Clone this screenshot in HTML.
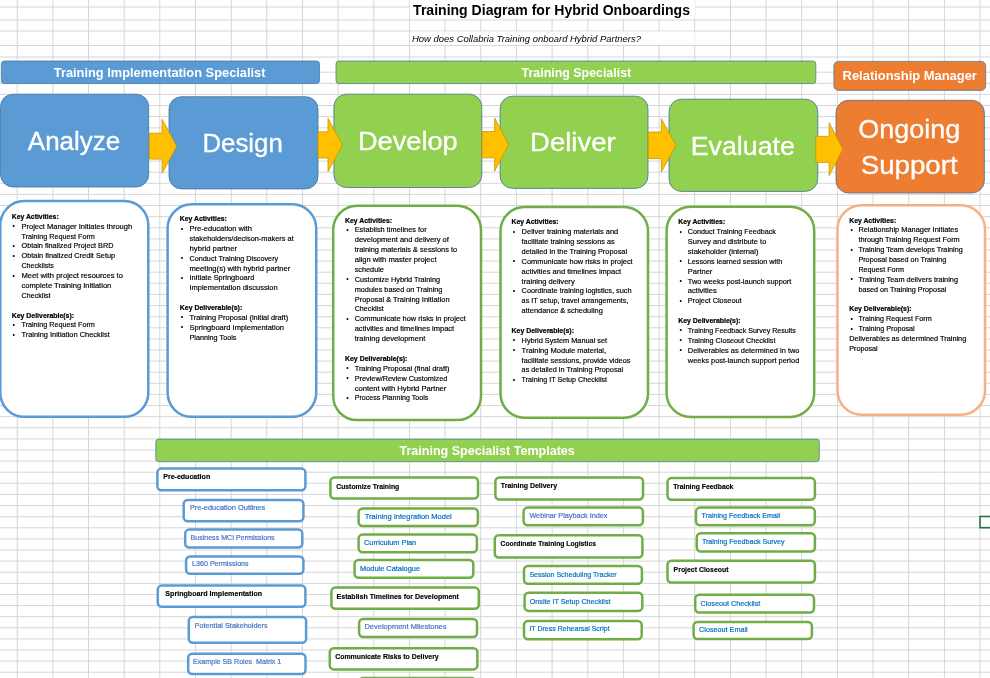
<!DOCTYPE html>
<html lang="en"><head><meta charset="utf-8"><title>Training Diagram for Hybrid Onboardings</title>
<style>
html,body{margin:0;padding:0;background:#fff;}
body{width:990px;height:678px;position:relative;overflow:hidden;font-family:"Liberation Sans", sans-serif;}
svg text{white-space:pre;}
</style></head><body>
<svg width="990" height="678" viewBox="0 0 990 678" font-family='"Liberation Sans", sans-serif' style="display:block;position:absolute;left:0;top:0;filter:blur(0.45px)"><g stroke="#d6d6d6" stroke-width="1" shape-rendering="auto"><line x1="17.2" y1="0" x2="17.2" y2="678"/><line x1="52.9" y1="0" x2="52.9" y2="678"/><line x1="88.5" y1="0" x2="88.5" y2="678"/><line x1="124.2" y1="0" x2="124.2" y2="678"/><line x1="159.8" y1="0" x2="159.8" y2="678"/><line x1="195.5" y1="0" x2="195.5" y2="678"/><line x1="231.2" y1="0" x2="231.2" y2="678"/><line x1="266.8" y1="0" x2="266.8" y2="678"/><line x1="302.5" y1="0" x2="302.5" y2="678"/><line x1="338.1" y1="0" x2="338.1" y2="678"/><line x1="373.8" y1="0" x2="373.8" y2="678"/><line x1="409.5" y1="0" x2="409.5" y2="678"/><line x1="445.1" y1="0" x2="445.1" y2="678"/><line x1="480.8" y1="0" x2="480.8" y2="678"/><line x1="516.4" y1="0" x2="516.4" y2="678"/><line x1="552.1" y1="0" x2="552.1" y2="678"/><line x1="587.8" y1="0" x2="587.8" y2="678"/><line x1="623.4" y1="0" x2="623.4" y2="678"/><line x1="659.1" y1="0" x2="659.1" y2="678"/><line x1="694.7" y1="0" x2="694.7" y2="678"/><line x1="730.4" y1="0" x2="730.4" y2="678"/><line x1="766.1" y1="0" x2="766.1" y2="678"/><line x1="801.7" y1="0" x2="801.7" y2="678"/><line x1="837.4" y1="0" x2="837.4" y2="678"/><line x1="873.0" y1="0" x2="873.0" y2="678"/><line x1="908.7" y1="0" x2="908.7" y2="678"/><line x1="944.4" y1="0" x2="944.4" y2="678"/><line x1="980.0" y1="0" x2="980.0" y2="678"/><line x1="0" y1="7.0" x2="990" y2="7.0"/><line x1="0" y1="20.0" x2="990" y2="20.0"/><line x1="0" y1="31.0" x2="990" y2="31.0"/><line x1="0" y1="45.5" x2="990" y2="45.5"/><line x1="0" y1="57.0" x2="990" y2="57.0"/><line x1="0" y1="72.2" x2="990" y2="72.2"/><line x1="0" y1="83.3" x2="990" y2="83.3"/><line x1="0" y1="94.4" x2="990" y2="94.4"/><line x1="0" y1="105.5" x2="990" y2="105.5"/><line x1="0" y1="116.6" x2="990" y2="116.6"/><line x1="0" y1="127.8" x2="990" y2="127.8"/><line x1="0" y1="138.9" x2="990" y2="138.9"/><line x1="0" y1="150.0" x2="990" y2="150.0"/><line x1="0" y1="161.1" x2="990" y2="161.1"/><line x1="0" y1="172.2" x2="990" y2="172.2"/><line x1="0" y1="183.3" x2="990" y2="183.3"/><line x1="0" y1="194.4" x2="990" y2="194.4"/><line x1="0" y1="205.5" x2="990" y2="205.5"/><line x1="0" y1="216.7" x2="990" y2="216.7"/><line x1="0" y1="227.8" x2="990" y2="227.8"/><line x1="0" y1="238.9" x2="990" y2="238.9"/><line x1="0" y1="250.0" x2="990" y2="250.0"/><line x1="0" y1="261.1" x2="990" y2="261.1"/><line x1="0" y1="272.2" x2="990" y2="272.2"/><line x1="0" y1="283.3" x2="990" y2="283.3"/><line x1="0" y1="294.4" x2="990" y2="294.4"/><line x1="0" y1="305.6" x2="990" y2="305.6"/><line x1="0" y1="316.7" x2="990" y2="316.7"/><line x1="0" y1="327.8" x2="990" y2="327.8"/><line x1="0" y1="338.9" x2="990" y2="338.9"/><line x1="0" y1="350.0" x2="990" y2="350.0"/><line x1="0" y1="361.1" x2="990" y2="361.1"/><line x1="0" y1="372.2" x2="990" y2="372.2"/><line x1="0" y1="383.3" x2="990" y2="383.3"/><line x1="0" y1="394.4" x2="990" y2="394.4"/><line x1="0" y1="405.6" x2="990" y2="405.6"/><line x1="0" y1="416.7" x2="990" y2="416.7"/><line x1="0" y1="427.8" x2="990" y2="427.8"/><line x1="0" y1="438.9" x2="990" y2="438.9"/><line x1="0" y1="450.0" x2="990" y2="450.0"/><line x1="0" y1="461.1" x2="990" y2="461.1"/><line x1="0" y1="472.2" x2="990" y2="472.2"/><line x1="0" y1="483.3" x2="990" y2="483.3"/><line x1="0" y1="494.5" x2="990" y2="494.5"/><line x1="0" y1="505.6" x2="990" y2="505.6"/><line x1="0" y1="516.7" x2="990" y2="516.7"/><line x1="0" y1="527.8" x2="990" y2="527.8"/><line x1="0" y1="538.9" x2="990" y2="538.9"/><line x1="0" y1="550.0" x2="990" y2="550.0"/><line x1="0" y1="561.1" x2="990" y2="561.1"/><line x1="0" y1="572.2" x2="990" y2="572.2"/><line x1="0" y1="583.4" x2="990" y2="583.4"/><line x1="0" y1="594.5" x2="990" y2="594.5"/><line x1="0" y1="605.6" x2="990" y2="605.6"/><line x1="0" y1="616.7" x2="990" y2="616.7"/><line x1="0" y1="627.8" x2="990" y2="627.8"/><line x1="0" y1="638.9" x2="990" y2="638.9"/><line x1="0" y1="650.0" x2="990" y2="650.0"/><line x1="0" y1="661.1" x2="990" y2="661.1"/><line x1="0" y1="672.2" x2="990" y2="672.2"/></g>
<rect x="409.8" y="0" width="285" height="18.9" fill="#fff"/>
<rect x="409.8" y="31.6" width="285" height="13.2" fill="#fff"/>
<rect x="980" y="516.5" width="14" height="11.2" fill="#fff" stroke="#217346" stroke-width="1.6"/>
<text x="413.1" y="15.4" font-size="14.1" fill="#000" font-weight="bold" text-anchor="start" font-style="normal" textLength="276.9" lengthAdjust="spacingAndGlyphs">Training Diagram for Hybrid Onboardings</text>
<text x="412.0" y="42.4" font-size="9.4" fill="#000" font-weight="normal" text-anchor="start" font-style="italic" textLength="229.0" lengthAdjust="spacingAndGlyphs">How does Collabria Training onboard Hybrid Partners?</text>
<rect x="1.3" y="61.0" width="318.2" height="22.6" rx="3" ry="3" fill="#5B9BD5" stroke="#41719C" stroke-width="0.7"/>
<rect x="336.0" y="61.0" width="479.8" height="22.6" rx="3" ry="3" fill="#92D050" stroke="#41719C" stroke-width="0.7"/>
<rect x="833.9" y="61.4" width="151.8" height="29.0" rx="4.5" ry="4.5" fill="#ED7D31" stroke="#41719C" stroke-width="0.7"/>
<text x="53.8" y="76.8" font-size="13.0" fill="#fff" font-weight="bold" text-anchor="start" font-style="normal" textLength="211.7" lengthAdjust="spacingAndGlyphs">Training Implementation Specialist</text>
<text x="521.6" y="76.6" font-size="12.9" fill="#fff" font-weight="bold" text-anchor="start" font-style="normal" textLength="109.6" lengthAdjust="spacingAndGlyphs">Training Specialist</text>
<text x="842.6" y="80.3" font-size="13.0" fill="#fff" font-weight="bold" text-anchor="start" font-style="normal" textLength="134.3" lengthAdjust="spacingAndGlyphs">Relationship Manager</text>
<rect x="0.5" y="94.2" width="148.2" height="92.8" rx="12.5" ry="12.5" fill="#5B9BD5" stroke="#41719C" stroke-width="0.8"/>
<text x="27.8" y="149.9" font-size="25.5" fill="#fff" font-weight="normal" text-anchor="start" font-style="normal" textLength="92.5" lengthAdjust="spacingAndGlyphs" stroke="#fff" stroke-width="0.3">Analyze</text>
<rect x="169.0" y="96.7" width="149.0" height="92.2" rx="12.5" ry="12.5" fill="#5B9BD5" stroke="#41719C" stroke-width="0.8"/>
<text x="202.4" y="151.9" font-size="25.5" fill="#fff" font-weight="normal" text-anchor="start" font-style="normal" textLength="80.5" lengthAdjust="spacingAndGlyphs" stroke="#fff" stroke-width="0.3">Design</text>
<rect x="333.9" y="94.2" width="147.9" height="93.3" rx="12.5" ry="12.5" fill="#92D050" stroke="#41719C" stroke-width="0.8"/>
<text x="357.9" y="150.2" font-size="25.5" fill="#fff" font-weight="normal" text-anchor="start" font-style="normal" textLength="99.8" lengthAdjust="spacingAndGlyphs" stroke="#fff" stroke-width="0.3">Develop</text>
<rect x="500.1" y="96.2" width="147.9" height="92.2" rx="12.5" ry="12.5" fill="#92D050" stroke="#41719C" stroke-width="0.8"/>
<text x="530.1" y="151.3" font-size="25.5" fill="#fff" font-weight="normal" text-anchor="start" font-style="normal" textLength="85.5" lengthAdjust="spacingAndGlyphs" stroke="#fff" stroke-width="0.3">Deliver</text>
<rect x="669.0" y="99.2" width="148.8" height="92.2" rx="12.5" ry="12.5" fill="#92D050" stroke="#41719C" stroke-width="0.8"/>
<text x="690.8" y="155.1" font-size="25.5" fill="#fff" font-weight="normal" text-anchor="start" font-style="normal" textLength="104" lengthAdjust="spacingAndGlyphs" stroke="#fff" stroke-width="0.3">Evaluate</text>
<rect x="836.0" y="100.3" width="148.4" height="92.7" rx="12.5" ry="12.5" fill="#ED7D31" stroke="#41719C" stroke-width="0.8"/>
<text x="858.3" y="137.7" font-size="25.5" fill="#fff" font-weight="normal" text-anchor="start" font-style="normal" textLength="102" lengthAdjust="spacingAndGlyphs" stroke="#fff" stroke-width="0.3">Ongoing</text>
<text x="860.7" y="174.2" font-size="25.5" fill="#fff" font-weight="normal" text-anchor="start" font-style="normal" textLength="97" lengthAdjust="spacingAndGlyphs" stroke="#fff" stroke-width="0.3">Support</text>
<polygon points="149.4,133.2 162.1,133.2 162.1,119.3 176.7,146.3 162.1,173.3 162.1,159.1 149.4,159.1" fill="#FFC000" stroke="#C99700" stroke-width="0.8"/>
<polygon points="318.0,131.8 328.0,131.8 328.0,118.2 342.3,144.9 328.0,171.7 328.0,158.0 318.0,158.0" fill="#FFC000" stroke="#C99700" stroke-width="0.8"/>
<polygon points="482.0,131.6 494.6,131.6 494.6,118.0 508.6,144.6 494.6,171.2 494.6,157.8 482.0,157.8" fill="#FFC000" stroke="#C99700" stroke-width="0.8"/>
<polygon points="648.3,132.0 661.4,132.0 661.4,118.7 675.8,145.3 661.4,172.0 661.4,158.6 648.3,158.6" fill="#FFC000" stroke="#C99700" stroke-width="0.8"/>
<polygon points="815.8,136.4 829.1,136.4 829.1,122.6 842.8,149.2 829.1,175.8 829.1,162.4 815.8,162.4" fill="#FFC000" stroke="#C99700" stroke-width="0.8"/>
<rect x="0.3" y="201.0" width="148.0" height="215.8" rx="24" ry="24" fill="#fff" stroke="#5B9BD5" stroke-width="2.5"/>
<g font-size="7.55" fill="#000" stroke="#000" stroke-width="0.18">
<text x="11.7" y="218.7"  font-weight="bold" font-size="7.05" stroke-width="0.22" textLength="47.0" lengthAdjust="spacingAndGlyphs">Key Activities:</text>
<text x="12.6" y="228.1" font-size="7" stroke="none">•</text>
<text x="21.5" y="228.6" textLength="110.6" lengthAdjust="spacingAndGlyphs">Project Manager Initiates through</text>
<text x="21.5" y="238.5" textLength="73.3" lengthAdjust="spacingAndGlyphs">Training Request Form</text>
<text x="12.6" y="247.8" font-size="7" stroke="none">•</text>
<text x="21.5" y="248.3" textLength="91.9" lengthAdjust="spacingAndGlyphs">Obtain finalized Project BRD</text>
<text x="12.6" y="257.7" font-size="7" stroke="none">•</text>
<text x="21.5" y="258.2" textLength="93.7" lengthAdjust="spacingAndGlyphs">Obtain finalized Credit Setup</text>
<text x="21.5" y="268.1" textLength="32.3" lengthAdjust="spacingAndGlyphs">Checklists</text>
<text x="12.6" y="277.5" font-size="7" stroke="none">•</text>
<text x="21.5" y="278.0" textLength="101.4" lengthAdjust="spacingAndGlyphs">Meet with project resources to</text>
<text x="21.5" y="287.9" textLength="89.8" lengthAdjust="spacingAndGlyphs">complete Training Initiation</text>
<text x="21.5" y="297.7" textLength="29.1" lengthAdjust="spacingAndGlyphs">Checklist</text>
<text x="11.7" y="317.5"  font-weight="bold" font-size="7.05" stroke-width="0.22" textLength="62.4" lengthAdjust="spacingAndGlyphs">Key Deliverable(s):</text>
<text x="12.6" y="326.9" font-size="7" stroke="none">•</text>
<text x="21.5" y="327.4" textLength="73.3" lengthAdjust="spacingAndGlyphs">Training Request Form</text>
<text x="12.6" y="336.8" font-size="7" stroke="none">•</text>
<text x="21.5" y="337.3" textLength="88.2" lengthAdjust="spacingAndGlyphs">Training Initiation Checklist</text>
</g>
<rect x="167.6" y="204.3" width="148.6" height="212.5" rx="24" ry="24" fill="#fff" stroke="#5B9BD5" stroke-width="2.5"/>
<g font-size="7.55" fill="#000" stroke="#000" stroke-width="0.18">
<text x="179.8" y="221.1"  font-weight="bold" font-size="7.05" stroke-width="0.22" textLength="47.0" lengthAdjust="spacingAndGlyphs">Key Activities:</text>
<text x="180.8" y="230.5" font-size="7" stroke="none">•</text>
<text x="189.5" y="231.0" textLength="62.5" lengthAdjust="spacingAndGlyphs">Pre-education with</text>
<text x="189.5" y="240.9" textLength="104.2" lengthAdjust="spacingAndGlyphs">stakeholders/decison-makers at</text>
<text x="189.5" y="250.7" textLength="47.5" lengthAdjust="spacingAndGlyphs">hybrid partner</text>
<text x="180.8" y="260.1" font-size="7" stroke="none">•</text>
<text x="189.5" y="260.6" textLength="88.7" lengthAdjust="spacingAndGlyphs">Conduct Training Discovery</text>
<text x="189.5" y="270.5" textLength="100.8" lengthAdjust="spacingAndGlyphs">meeting(s) with hybrid partner</text>
<text x="180.8" y="279.9" font-size="7" stroke="none">•</text>
<text x="189.5" y="280.4" textLength="64.9" lengthAdjust="spacingAndGlyphs">Initiate Springboard</text>
<text x="189.5" y="290.3" textLength="88.1" lengthAdjust="spacingAndGlyphs">Implementation discussion</text>
<text x="179.8" y="310.0"  font-weight="bold" font-size="7.05" stroke-width="0.22" textLength="62.4" lengthAdjust="spacingAndGlyphs">Key Deliverable(s):</text>
<text x="180.8" y="319.4" font-size="7" stroke="none">•</text>
<text x="189.5" y="319.9" textLength="98.7" lengthAdjust="spacingAndGlyphs">Training Proposal (initial draft)</text>
<text x="180.8" y="329.3" font-size="7" stroke="none">•</text>
<text x="189.5" y="329.8" textLength="94.5" lengthAdjust="spacingAndGlyphs">Springboard Implementation</text>
<text x="189.5" y="339.7" textLength="46.9" lengthAdjust="spacingAndGlyphs">Planning Tools</text>
</g>
<rect x="333.2" y="205.8" width="147.8" height="214.3" rx="24" ry="24" fill="#fff" stroke="#70AD47" stroke-width="2.5"/>
<g font-size="7.55" fill="#000" stroke="#000" stroke-width="0.18">
<text x="345.0" y="222.5"  font-weight="bold" font-size="7.05" stroke-width="0.22" textLength="47.0" lengthAdjust="spacingAndGlyphs">Key Activities:</text>
<text x="346.2" y="231.9" font-size="7" stroke="none">•</text>
<text x="354.7" y="232.4" textLength="72.0" lengthAdjust="spacingAndGlyphs">Establish timelines for</text>
<text x="354.7" y="242.3" textLength="94.2" lengthAdjust="spacingAndGlyphs">development and delivery of</text>
<text x="354.7" y="252.1" textLength="102.4" lengthAdjust="spacingAndGlyphs">training materials &amp; sessions to</text>
<text x="354.7" y="262.0" textLength="81.8" lengthAdjust="spacingAndGlyphs">align with master project</text>
<text x="354.7" y="271.9" textLength="29.2" lengthAdjust="spacingAndGlyphs">schedule</text>
<text x="346.2" y="281.3" font-size="7" stroke="none">•</text>
<text x="354.7" y="281.8" textLength="85.3" lengthAdjust="spacingAndGlyphs">Customize Hybrid Training</text>
<text x="354.7" y="291.7" textLength="87.7" lengthAdjust="spacingAndGlyphs">modules based on Training</text>
<text x="354.7" y="301.5" textLength="94.9" lengthAdjust="spacingAndGlyphs">Proposal &amp; Training Initiation</text>
<text x="354.7" y="311.4" textLength="29.1" lengthAdjust="spacingAndGlyphs">Checklist</text>
<text x="346.2" y="320.8" font-size="7" stroke="none">•</text>
<text x="354.7" y="321.3" textLength="111.1" lengthAdjust="spacingAndGlyphs">Communicate how risks in project</text>
<text x="354.7" y="331.2" textLength="99.5" lengthAdjust="spacingAndGlyphs">activities and timelines impact</text>
<text x="354.7" y="341.1" textLength="70.6" lengthAdjust="spacingAndGlyphs">training development</text>
<text x="345.0" y="360.8"  font-weight="bold" font-size="7.05" stroke-width="0.22" textLength="62.4" lengthAdjust="spacingAndGlyphs">Key Deliverable(s):</text>
<text x="346.2" y="370.2" font-size="7" stroke="none">•</text>
<text x="354.7" y="370.7" textLength="94.8" lengthAdjust="spacingAndGlyphs">Training Proposal (final draft)</text>
<text x="346.2" y="380.1" font-size="7" stroke="none">•</text>
<text x="354.7" y="380.6" textLength="92.7" lengthAdjust="spacingAndGlyphs">Preview/Review Customized</text>
<text x="354.7" y="390.5" textLength="91.7" lengthAdjust="spacingAndGlyphs">content with Hybrid Partner</text>
<text x="346.2" y="399.8" font-size="7" stroke="none">•</text>
<text x="354.7" y="400.3" textLength="73.6" lengthAdjust="spacingAndGlyphs">Process Planning Tools</text>
</g>
<rect x="500.5" y="207.0" width="147.5" height="210.7" rx="24" ry="24" fill="#fff" stroke="#70AD47" stroke-width="2.5"/>
<g font-size="7.55" fill="#000" stroke="#000" stroke-width="0.18">
<text x="511.6" y="224.2"  font-weight="bold" font-size="7.05" stroke-width="0.22" textLength="47.0" lengthAdjust="spacingAndGlyphs">Key Activities:</text>
<text x="512.8" y="233.6" font-size="7" stroke="none">•</text>
<text x="521.6" y="234.1" textLength="96.6" lengthAdjust="spacingAndGlyphs">Deliver training materials and</text>
<text x="521.6" y="244.0" textLength="93.0" lengthAdjust="spacingAndGlyphs">facilitate training sessions as</text>
<text x="521.6" y="253.8" textLength="105.5" lengthAdjust="spacingAndGlyphs">detailed in the Training Proposal</text>
<text x="512.8" y="263.2" font-size="7" stroke="none">•</text>
<text x="521.6" y="263.7" textLength="111.1" lengthAdjust="spacingAndGlyphs">Communicate how risks in project</text>
<text x="521.6" y="273.6" textLength="99.5" lengthAdjust="spacingAndGlyphs">activities and timelines impact</text>
<text x="521.6" y="283.5" textLength="53.1" lengthAdjust="spacingAndGlyphs">training delivery</text>
<text x="512.8" y="292.9" font-size="7" stroke="none">•</text>
<text x="521.6" y="293.4" textLength="110.0" lengthAdjust="spacingAndGlyphs">Coordinate training logistics, such</text>
<text x="521.6" y="303.2" textLength="106.9" lengthAdjust="spacingAndGlyphs">as IT setup, travel arrangements,</text>
<text x="521.6" y="313.1" textLength="81.2" lengthAdjust="spacingAndGlyphs">attendance &amp; scheduling</text>
<text x="511.6" y="332.9"  font-weight="bold" font-size="7.05" stroke-width="0.22" textLength="62.4" lengthAdjust="spacingAndGlyphs">Key Deliverable(s):</text>
<text x="512.8" y="342.3" font-size="7" stroke="none">•</text>
<text x="521.6" y="342.8" textLength="85.5" lengthAdjust="spacingAndGlyphs">Hybrid System Manual set</text>
<text x="512.8" y="352.1" font-size="7" stroke="none">•</text>
<text x="521.6" y="352.6" textLength="84.5" lengthAdjust="spacingAndGlyphs">Training Module material,</text>
<text x="521.6" y="362.5" textLength="108.8" lengthAdjust="spacingAndGlyphs">facilitate sessions, provide videos</text>
<text x="521.6" y="372.4" textLength="101.6" lengthAdjust="spacingAndGlyphs">as detailed in Training Proposal</text>
<text x="512.8" y="381.8" font-size="7" stroke="none">•</text>
<text x="521.6" y="382.3" textLength="85.5" lengthAdjust="spacingAndGlyphs">Training IT Setup Checklist</text>
</g>
<rect x="666.6" y="206.7" width="147.6" height="210.3" rx="24" ry="24" fill="#fff" stroke="#70AD47" stroke-width="2.5"/>
<g font-size="7.55" fill="#000" stroke="#000" stroke-width="0.18">
<text x="678.2" y="224.2"  font-weight="bold" font-size="7.05" stroke-width="0.22" textLength="47.0" lengthAdjust="spacingAndGlyphs">Key Activities:</text>
<text x="679.6" y="233.6" font-size="7" stroke="none">•</text>
<text x="687.8" y="234.1" textLength="88.1" lengthAdjust="spacingAndGlyphs">Conduct Training Feedback</text>
<text x="687.8" y="244.0" textLength="78.5" lengthAdjust="spacingAndGlyphs">Survey and distribute to</text>
<text x="687.8" y="253.8" textLength="70.6" lengthAdjust="spacingAndGlyphs">stakeholder (internal)</text>
<text x="679.6" y="263.2" font-size="7" stroke="none">•</text>
<text x="687.8" y="263.7" textLength="94.4" lengthAdjust="spacingAndGlyphs">Lessons learned session with</text>
<text x="687.8" y="273.6" textLength="24.5" lengthAdjust="spacingAndGlyphs">Partner</text>
<text x="679.6" y="283.0" font-size="7" stroke="none">•</text>
<text x="687.8" y="283.5" textLength="103.6" lengthAdjust="spacingAndGlyphs">Two weeks post-launch support</text>
<text x="687.8" y="293.4" textLength="29.0" lengthAdjust="spacingAndGlyphs">activities</text>
<text x="679.6" y="302.7" font-size="7" stroke="none">•</text>
<text x="687.8" y="303.2" textLength="53.8" lengthAdjust="spacingAndGlyphs">Project Closeout</text>
<text x="678.2" y="323.0"  font-weight="bold" font-size="7.05" stroke-width="0.22" textLength="62.4" lengthAdjust="spacingAndGlyphs">Key Deliverable(s):</text>
<text x="679.6" y="332.4" font-size="7" stroke="none">•</text>
<text x="687.8" y="332.9" textLength="108.0" lengthAdjust="spacingAndGlyphs">Training Feedback Survey Results</text>
<text x="679.6" y="342.3" font-size="7" stroke="none">•</text>
<text x="687.8" y="342.8" textLength="87.6" lengthAdjust="spacingAndGlyphs">Training Closeout Checklist</text>
<text x="679.6" y="352.1" font-size="7" stroke="none">•</text>
<text x="687.8" y="352.6" textLength="111.7" lengthAdjust="spacingAndGlyphs">Deliverables as determined in two</text>
<text x="687.8" y="362.5" textLength="111.5" lengthAdjust="spacingAndGlyphs">weeks post-launch support period</text>
</g>
<rect x="837.5" y="205.3" width="147.5" height="209.4" rx="24" ry="24" fill="#fff" stroke="#F4B183" stroke-width="2.5"/>
<g font-size="7.55" fill="#000" stroke="#000" stroke-width="0.18">
<text x="849.2" y="222.5"  font-weight="bold" font-size="7.05" stroke-width="0.22" textLength="47.0" lengthAdjust="spacingAndGlyphs">Key Activities:</text>
<text x="850.4" y="231.9" font-size="7" stroke="none">•</text>
<text x="858.4" y="232.4" textLength="99.8" lengthAdjust="spacingAndGlyphs">Relationship Manager Initiates</text>
<text x="858.4" y="242.3" textLength="101.3" lengthAdjust="spacingAndGlyphs">through Training Request Form</text>
<text x="850.4" y="251.6" font-size="7" stroke="none">•</text>
<text x="858.4" y="252.1" textLength="104.3" lengthAdjust="spacingAndGlyphs">Training Team develops Training</text>
<text x="858.4" y="262.0" textLength="88.0" lengthAdjust="spacingAndGlyphs">Proposal based on Training</text>
<text x="858.4" y="271.9" textLength="45.5" lengthAdjust="spacingAndGlyphs">Request Form</text>
<text x="850.4" y="281.3" font-size="7" stroke="none">•</text>
<text x="858.4" y="281.8" textLength="99.6" lengthAdjust="spacingAndGlyphs">Training Team delivers training</text>
<text x="858.4" y="291.7" textLength="88.0" lengthAdjust="spacingAndGlyphs">based on Training Proposal</text>
<text x="849.2" y="311.4"  font-weight="bold" font-size="7.05" stroke-width="0.22" textLength="62.4" lengthAdjust="spacingAndGlyphs">Key Deliverable(s):</text>
<text x="850.4" y="320.8" font-size="7" stroke="none">•</text>
<text x="858.4" y="321.3" textLength="73.3" lengthAdjust="spacingAndGlyphs">Training Request Form</text>
<text x="850.4" y="330.7" font-size="7" stroke="none">•</text>
<text x="858.4" y="331.2" textLength="56.3" lengthAdjust="spacingAndGlyphs">Training Proposal</text>
<text x="849.2" y="341.1" textLength="117.1" lengthAdjust="spacingAndGlyphs">Deliverables as determined Training</text>
<text x="849.2" y="350.9" textLength="28.5" lengthAdjust="spacingAndGlyphs">Proposal</text>
</g>
<rect x="155.8" y="439.1" width="663.5" height="22.6" rx="3" ry="3" fill="#92D050" stroke="#41719C" stroke-width="0.7"/>
<text x="399.5" y="454.6" font-size="12.9" fill="#fff" font-weight="bold" text-anchor="start" font-style="normal" textLength="175.3" lengthAdjust="spacingAndGlyphs">Training Specialist Templates</text>
<rect x="157.4" y="468.6" width="148.0" height="21.7" rx="4" ry="4" fill="#fff" stroke="#5B9BD5" stroke-width="2.5"/>
<text x="163.2" y="478.9" font-size="7.25" fill="#000" font-weight="bold" text-anchor="start" font-style="normal" textLength="47.0" lengthAdjust="spacingAndGlyphs" stroke="#000" stroke-width="0.15">Pre-education</text>
<rect x="183.7" y="499.9" width="119.7" height="21.3" rx="4" ry="4" fill="#fff" stroke="#5B9BD5" stroke-width="2.5"/>
<text x="189.9" y="510.4" font-size="7.6" fill="#4472C4" font-weight="normal" text-anchor="start" font-style="normal" textLength="75.3" lengthAdjust="spacingAndGlyphs" stroke="#4472C4" stroke-width="0.2">Pre-education Outlines</text>
<rect x="185.2" y="529.6" width="117.1" height="17.9" rx="4" ry="4" fill="#fff" stroke="#5B9BD5" stroke-width="2.5"/>
<text x="190.5" y="540.1" font-size="7.6" fill="#4472C4" font-weight="normal" text-anchor="start" font-style="normal" textLength="84.1" lengthAdjust="spacingAndGlyphs" stroke="#4472C4" stroke-width="0.2">Business MCI Permissions</text>
<rect x="186.1" y="556.4" width="117.3" height="17.3" rx="4" ry="4" fill="#fff" stroke="#5B9BD5" stroke-width="2.5"/>
<text x="192.1" y="566.2" font-size="7.6" fill="#4472C4" font-weight="normal" text-anchor="start" font-style="normal" textLength="56.5" lengthAdjust="spacingAndGlyphs" stroke="#4472C4" stroke-width="0.2">L360 Permissions</text>
<rect x="157.8" y="585.6" width="147.6" height="21.1" rx="4" ry="4" fill="#fff" stroke="#5B9BD5" stroke-width="2.5"/>
<text x="165.3" y="595.9" font-size="7.25" fill="#000" font-weight="bold" text-anchor="start" font-style="normal" textLength="96.8" lengthAdjust="spacingAndGlyphs" stroke="#000" stroke-width="0.15">Springboard Implementation</text>
<rect x="188.8" y="617.0" width="117.3" height="25.8" rx="4" ry="4" fill="#fff" stroke="#5B9BD5" stroke-width="2.5"/>
<text x="194.5" y="627.8" font-size="7.6" fill="#4472C4" font-weight="normal" text-anchor="start" font-style="normal" textLength="73.2" lengthAdjust="spacingAndGlyphs" stroke="#4472C4" stroke-width="0.2">Potential Stakeholders</text>
<rect x="188.2" y="653.8" width="117.3" height="20.3" rx="4" ry="4" fill="#fff" stroke="#5B9BD5" stroke-width="2.5"/>
<text x="193.1" y="664.2" font-size="7.6" fill="#4472C4" font-weight="normal" text-anchor="start" font-style="normal" textLength="88.2" lengthAdjust="spacingAndGlyphs" stroke="#4472C4" stroke-width="0.2">Example SB Roles  Matrix 1</text>
<rect x="330.4" y="477.4" width="147.6" height="21.1" rx="4" ry="4" fill="#fff" stroke="#70AD47" stroke-width="2.5"/>
<text x="336.2" y="488.6" font-size="7.25" fill="#000" font-weight="bold" text-anchor="start" font-style="normal" textLength="63.1" lengthAdjust="spacingAndGlyphs" stroke="#000" stroke-width="0.15">Customize Training</text>
<rect x="358.6" y="508.4" width="119.3" height="17.7" rx="4" ry="4" fill="#fff" stroke="#70AD47" stroke-width="2.5"/>
<text x="364.8" y="518.5" font-size="7.6" fill="#0070C0" font-weight="normal" text-anchor="start" font-style="normal" textLength="87.0" lengthAdjust="spacingAndGlyphs" stroke="#0070C0" stroke-width="0.2">Training Integration Model</text>
<rect x="358.6" y="534.6" width="118.3" height="17.7" rx="4" ry="4" fill="#fff" stroke="#70AD47" stroke-width="2.5"/>
<text x="364.0" y="545.2" font-size="7.6" fill="#0070C0" font-weight="normal" text-anchor="start" font-style="normal" textLength="52.2" lengthAdjust="spacingAndGlyphs" stroke="#0070C0" stroke-width="0.2">Curriculum Plan</text>
<rect x="354.6" y="560.0" width="118.7" height="17.7" rx="4" ry="4" fill="#fff" stroke="#70AD47" stroke-width="2.5"/>
<text x="360.0" y="570.9" font-size="7.6" fill="#0070C0" font-weight="normal" text-anchor="start" font-style="normal" textLength="60.1" lengthAdjust="spacingAndGlyphs" stroke="#0070C0" stroke-width="0.2">Module Catalogue</text>
<rect x="331.4" y="587.6" width="147.4" height="21.1" rx="4" ry="4" fill="#fff" stroke="#70AD47" stroke-width="2.5"/>
<text x="336.6" y="598.5" font-size="7.25" fill="#000" font-weight="bold" text-anchor="start" font-style="normal" textLength="122.3" lengthAdjust="spacingAndGlyphs" stroke="#000" stroke-width="0.15">Establish Timelines for Development</text>
<rect x="359.1" y="619.0" width="117.9" height="18.1" rx="4" ry="4" fill="#fff" stroke="#70AD47" stroke-width="2.5"/>
<text x="364.4" y="629.2" font-size="7.6" fill="#4472C4" font-weight="normal" text-anchor="start" font-style="normal" textLength="82.1" lengthAdjust="spacingAndGlyphs" stroke="#4472C4" stroke-width="0.2">Development Milestones</text>
<rect x="329.8" y="648.2" width="147.6" height="21.2" rx="4" ry="4" fill="#fff" stroke="#70AD47" stroke-width="2.5"/>
<text x="335.2" y="658.5" font-size="7.25" fill="#000" font-weight="bold" text-anchor="start" font-style="normal" textLength="103.5" lengthAdjust="spacingAndGlyphs" stroke="#000" stroke-width="0.15">Communicate Risks to Delivery</text>
<rect x="359.1" y="678.0" width="116.3" height="17.8" rx="4" ry="4" fill="#fff" stroke="#70AD47" stroke-width="2.5"/>
<rect x="495.4" y="477.4" width="147.6" height="22.1" rx="4" ry="4" fill="#fff" stroke="#70AD47" stroke-width="2.5"/>
<text x="500.8" y="487.6" font-size="7.25" fill="#000" font-weight="bold" text-anchor="start" font-style="normal" textLength="56.3" lengthAdjust="spacingAndGlyphs" stroke="#000" stroke-width="0.15">Training Delivery</text>
<rect x="523.6" y="507.6" width="119.3" height="17.7" rx="4" ry="4" fill="#fff" stroke="#70AD47" stroke-width="2.5"/>
<text x="529.4" y="517.9" font-size="7.6" fill="#4472C4" font-weight="normal" text-anchor="start" font-style="normal" textLength="78.1" lengthAdjust="spacingAndGlyphs" stroke="#4472C4" stroke-width="0.2">Webinar Playback Index</text>
<rect x="494.8" y="535.2" width="147.6" height="22.4" rx="4" ry="4" fill="#fff" stroke="#70AD47" stroke-width="2.5"/>
<text x="500.6" y="546.2" font-size="7.25" fill="#000" font-weight="bold" text-anchor="start" font-style="normal" textLength="95.4" lengthAdjust="spacingAndGlyphs" stroke="#000" stroke-width="0.15">Coordinate Training Logistics</text>
<rect x="524.0" y="566.0" width="117.9" height="17.7" rx="4" ry="4" fill="#fff" stroke="#70AD47" stroke-width="2.5"/>
<text x="529.4" y="576.7" font-size="7.6" fill="#0070C0" font-weight="normal" text-anchor="start" font-style="normal" textLength="87.3" lengthAdjust="spacingAndGlyphs" stroke="#0070C0" stroke-width="0.2">Session Scheduling Tracker</text>
<rect x="524.6" y="592.8" width="117.7" height="18.1" rx="4" ry="4" fill="#fff" stroke="#70AD47" stroke-width="2.5"/>
<text x="529.8" y="603.6" font-size="7.6" fill="#0070C0" font-weight="normal" text-anchor="start" font-style="normal" textLength="80.7" lengthAdjust="spacingAndGlyphs" stroke="#0070C0" stroke-width="0.2">Onsite IT Setup Checklist</text>
<rect x="524.0" y="621.0" width="117.7" height="18.2" rx="4" ry="4" fill="#fff" stroke="#70AD47" stroke-width="2.5"/>
<text x="529.4" y="631.3" font-size="7.6" fill="#0070C0" font-weight="normal" text-anchor="start" font-style="normal" textLength="80.2" lengthAdjust="spacingAndGlyphs" stroke="#0070C0" stroke-width="0.2">IT Dress Rehearsal Script</text>
<rect x="667.5" y="478.1" width="147.4" height="21.7" rx="4" ry="4" fill="#fff" stroke="#70AD47" stroke-width="2.5"/>
<text x="673.2" y="489.2" font-size="7.25" fill="#000" font-weight="bold" text-anchor="start" font-style="normal" textLength="60.2" lengthAdjust="spacingAndGlyphs" stroke="#000" stroke-width="0.15">Training Feedback</text>
<rect x="696.0" y="507.6" width="118.8" height="17.7" rx="4" ry="4" fill="#fff" stroke="#70AD47" stroke-width="2.5"/>
<text x="701.5" y="517.9" font-size="7.6" fill="#0070C0" font-weight="normal" text-anchor="start" font-style="normal" textLength="78.7" lengthAdjust="spacingAndGlyphs" stroke="#0070C0" stroke-width="0.2">Training Feedback Email</text>
<rect x="696.8" y="533.2" width="118.1" height="18.3" rx="4" ry="4" fill="#fff" stroke="#70AD47" stroke-width="2.5"/>
<text x="701.9" y="543.7" font-size="7.6" fill="#0070C0" font-weight="normal" text-anchor="start" font-style="normal" textLength="82.7" lengthAdjust="spacingAndGlyphs" stroke="#0070C0" stroke-width="0.2">Training Feedback Survey</text>
<rect x="667.5" y="560.8" width="147.4" height="21.8" rx="4" ry="4" fill="#fff" stroke="#70AD47" stroke-width="2.5"/>
<text x="673.6" y="571.7" font-size="7.25" fill="#000" font-weight="bold" text-anchor="start" font-style="normal" textLength="54.9" lengthAdjust="spacingAndGlyphs" stroke="#000" stroke-width="0.15">Project Closeout</text>
<rect x="695.2" y="594.8" width="118.8" height="17.7" rx="4" ry="4" fill="#fff" stroke="#70AD47" stroke-width="2.5"/>
<text x="700.5" y="605.6" font-size="7.6" fill="#0070C0" font-weight="normal" text-anchor="start" font-style="normal" textLength="59.8" lengthAdjust="spacingAndGlyphs" stroke="#0070C0" stroke-width="0.2">Closeout Checklist</text>
<rect x="693.6" y="622.0" width="118.3" height="17.1" rx="4" ry="4" fill="#fff" stroke="#70AD47" stroke-width="2.5"/>
<text x="699.1" y="631.5" font-size="7.6" fill="#0070C0" font-weight="normal" text-anchor="start" font-style="normal" textLength="48.6" lengthAdjust="spacingAndGlyphs" stroke="#0070C0" stroke-width="0.2">Closeout Email</text></svg>
</body></html>
